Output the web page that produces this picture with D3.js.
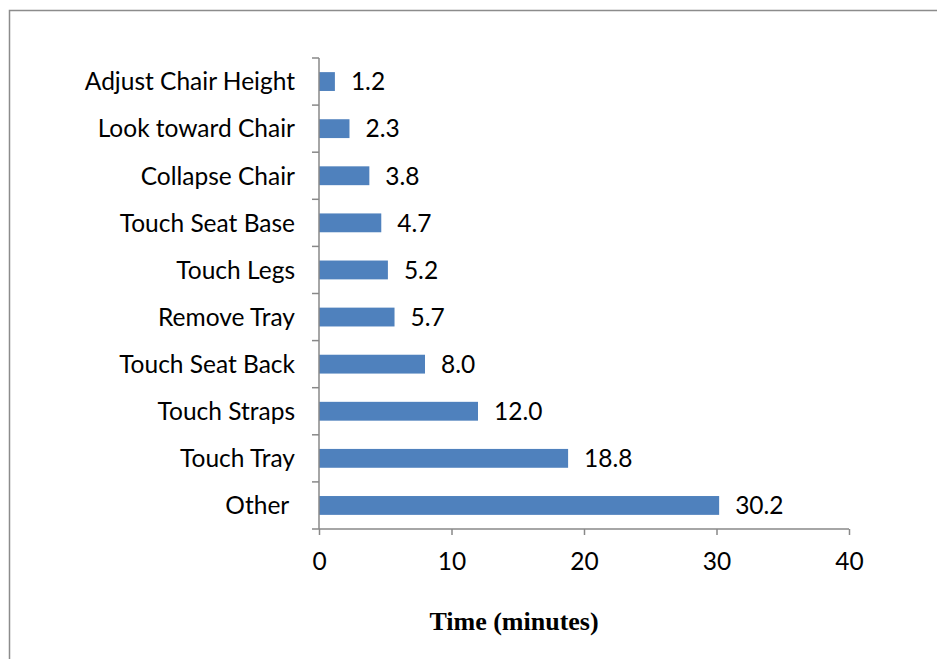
<!DOCTYPE html>
<html>
<head>
<meta charset="utf-8">
<script src="https://cdn.jsdelivr.net/npm/d3@7"></script>
<style>
  html, body { margin: 0; padding: 0; background: #fff; }
  svg { display: block; }
  text { white-space: pre; }
</style>
</head>
<body>
<svg id="chart" width="937" height="659"></svg>
<script>
const categories = ["Adjust Chair Height", "Look toward Chair", "Collapse Chair", "Touch Seat Base", "Touch Legs", "Remove Tray", "Touch Seat Back", "Touch Straps", "Touch Tray", "Other "];
const values = [1.2, 2.3, 3.8, 4.7, 5.2, 5.7, 8.0, 12.0, 18.8, 30.2];
const xTicks = [0, 10, 20, 30, 40];
const xTitle = "Time (minutes)";

const svg = d3.select("#chart");
const font = "Lato, 'Open Sans', sans-serif";
const fs = 24.5;

// outer border
svg.append("rect")
  .attr("x", 9.5).attr("y", 10.5)
  .attr("width", 940).attr("height", 660)
  .attr("fill", "none").attr("stroke", "#8c8c8c").attr("stroke-width", 1.5);

const x = d3.scaleLinear().domain([0, 40]).range([319, 849]);
const y = d3.scaleBand().domain(categories).range([58, 529]).paddingInner(0.6).paddingOuter(0.3);
const yTicksScale = d3.scaleBand().domain(categories).range([58, 529]);

// bars
svg.append("g").selectAll("rect")
  .data(values)
  .join("rect")
  .attr("x", x(0))
  .attr("y", (d, i) => y(categories[i]))
  .attr("width", d => x(d) - x(0))
  .attr("height", y.bandwidth())
  .attr("fill", "#4F81BD");

// value labels
svg.append("g").selectAll("text")
  .data(values)
  .join("text")
  .attr("x", d => x(d) + 16)
  .attr("y", (d, i) => y(categories[i]) + y.bandwidth() / 2)
  .attr("dy", "0.36em")
  .attr("font-family", font)
  .attr("font-size", fs)
  .attr("fill", "#000")
  .text(d => d.toFixed(1));

// x axis
const xAxis = d3.axisBottom(x).tickValues(xTicks).tickSize(6).tickPadding(18).tickFormat(d3.format("d"));
const gx = svg.append("g").attr("transform", "translate(0,529)").call(xAxis);
gx.select(".domain").attr("stroke", "#888").attr("stroke-width", 1.5).attr("d", "M319,0H849");
gx.selectAll(".tick line").attr("stroke", "#888").attr("stroke-width", 1.5);
gx.selectAll(".tick text").attr("font-family", font).attr("font-size", fs).attr("fill", "#000");

// y axis (ticks at band boundaries)
const gy = svg.append("g");
gy.append("line")
  .attr("x1", 319).attr("x2", 319).attr("y1", 58).attr("y2", 529)
  .attr("stroke", "#888").attr("stroke-width", 1.5);
const boundaries = categories.map(c => yTicksScale(c)).concat([529]);
gy.selectAll("line.tk")
  .data(boundaries)
  .join("line")
  .attr("class", "tk")
  .attr("x1", 312).attr("x2", 319)
  .attr("y1", d => d).attr("y2", d => d)
  .attr("stroke", "#888").attr("stroke-width", 1.5);

// category labels
svg.append("g").selectAll("text")
  .data(categories)
  .join("text")
  .attr("x", 295)
  .attr("y", d => y(d) + y.bandwidth() / 2)
  .attr("dy", "0.36em")
  .attr("text-anchor", "end")
  .attr("font-family", font)
  .attr("font-size", fs)
  .attr("fill", "#000")
  .text(d => d);

// axis title
svg.append("text")
  .attr("x", 514).attr("y", 630)
  .attr("text-anchor", "middle")
  .attr("font-family", "'Liberation Serif', 'Times New Roman', serif")
  .attr("font-weight", "bold")
  .attr("font-size", 26)
  .attr("fill", "#000")
  .text(xTitle);
</script>
</body>
</html>
